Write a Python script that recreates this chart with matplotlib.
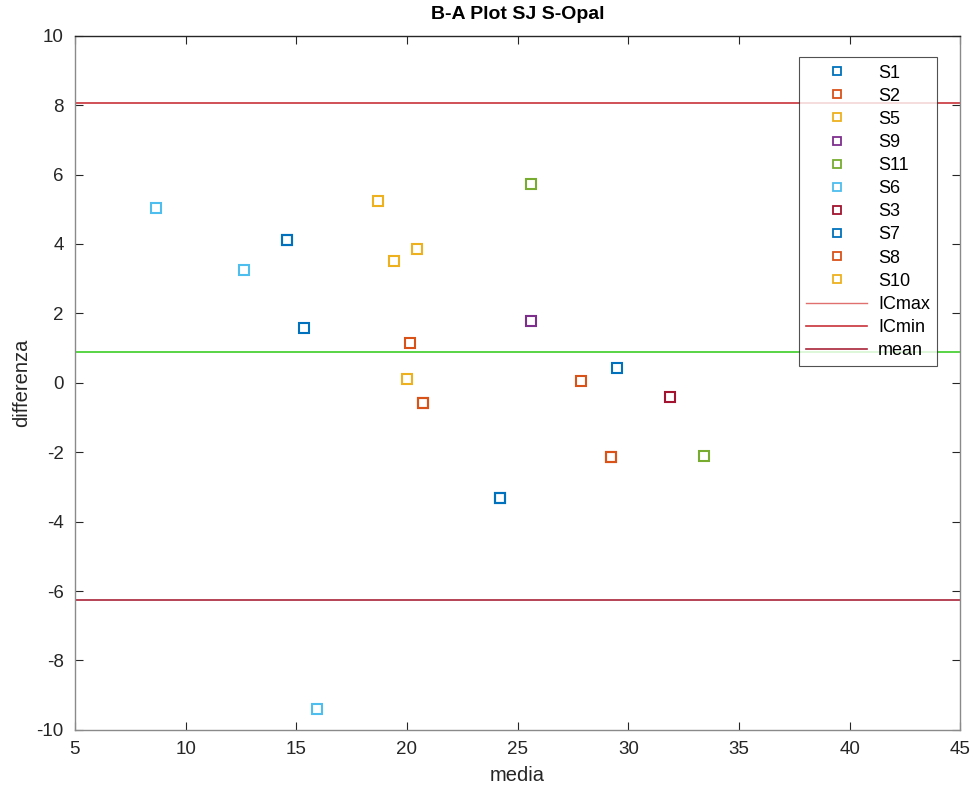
import numpy as np
import matplotlib
matplotlib.use("Agg")
import matplotlib.pyplot as plt
from matplotlib.lines import Line2D

plt.rcParams['font.family'] = ['Liberation Sans', 'DejaVu Sans']
plt.rcParams['axes.unicode_minus'] = False

# Bland-Altman points per subject: (mean of the two methods, difference)
subjects = ['S1', 'S2', 'S5', 'S9', 'S11', 'S6', 'S3', 'S7', 'S8', 'S10']
media_vals = [
    [14.6, 15.33, 24.2],      # S1
    [20.12, 20.72, 29.2],     # S2
    [18.7, 19.4],             # S5
    [25.6],                   # S9
    [25.6, 33.4],             # S11
    [8.66, 12.63, 15.95],     # S6
    [31.88],                  # S3
    [14.6, 24.2, 29.47],      # S7
    [20.72, 29.2, 27.88],     # S8
    [20.46, 20.01],           # S10
]
diff_vals = [
    [4.12, 1.58, -3.31],
    [1.15, -0.58, -2.15],
    [5.25, 3.52],
    [1.78],
    [5.73, -2.12],
    [5.05, 3.25, -9.4],
    [-0.41],
    [4.12, -3.31, 0.44],
    [-0.58, -2.15, 0.06],
    [3.85, 0.12],
]

mean_diff = 0.9
ic_max = 8.07
ic_min = -6.27

# MATLAB default colour order
colors = ['#0072BD', '#D95319', '#EDB120', '#7E2F8E', '#77AC30',
          '#4DBEEE', '#A2142F']

fig = plt.figure(figsize=(9.73, 7.95), dpi=100)
ax = fig.add_axes([0.077, 0.082, 0.910, 0.873])

handles = []
for i, name in enumerate(subjects):
    c = colors[i % len(colors)]
    ax.plot(media_vals[i], diff_vals[i], linestyle='none', marker='s',
            markersize=7, markerfacecolor='none', markeredgecolor=c,
            markeredgewidth=1.5, zorder=3)
    handles.append(Line2D([], [], linestyle='none', marker='s', markersize=6,
                          markerfacecolor='none', markeredgecolor=c,
                          markeredgewidth=1.3, label=name))

ax.axhline(ic_max, color='#C8323A', lw=1.2, zorder=2)
ax.axhline(ic_min, color='#A8243A', lw=1.2, zorder=2)
ax.axhline(mean_diff, color='#4CD137', lw=1.3, zorder=2)

handles.append(Line2D([], [], color='#E07070', lw=1.0, label='ICmax'))
handles.append(Line2D([], [], color='#C8323A', lw=1.2, label='ICmin'))
handles.append(Line2D([], [], color='#A8243A', lw=1.2, label='mean'))

ax.set_xlim(5, 45)
ax.set_ylim(-10, 10)
ax.set_xticks(np.arange(5, 46, 5))
ax.set_yticks(np.arange(-10, 11, 2))
ax.tick_params(direction='in', length=6, width=0.8, colors='#262626',
               labelsize=13.5, top=True, right=True, pad=8)
for s in ax.spines.values():
    s.set_color('#8a8a8a')
    s.set_linewidth(1.0)
ax.spines['top'].set_color('#262626')

ax.set_title('B-A Plot SJ S-Opal', fontsize=14, fontweight='bold', pad=12)
ax.set_xlabel('media', fontsize=14.5, color='#262626', labelpad=6)
ax.set_ylabel('differenza', fontsize=14.5, color='#262626', labelpad=4)

leg = ax.legend(handles=handles, loc='upper right', bbox_to_anchor=(0.974, 0.969),
                fontsize=13, frameon=True, fancybox=False, edgecolor='#262626',
                handlelength=3.4, labelspacing=0.34, borderpad=0.4,
                handletextpad=0.6, borderaxespad=0.0)
leg.get_frame().set_linewidth(0.8)

fig.savefig('out.png', dpi=100, facecolor='white')
